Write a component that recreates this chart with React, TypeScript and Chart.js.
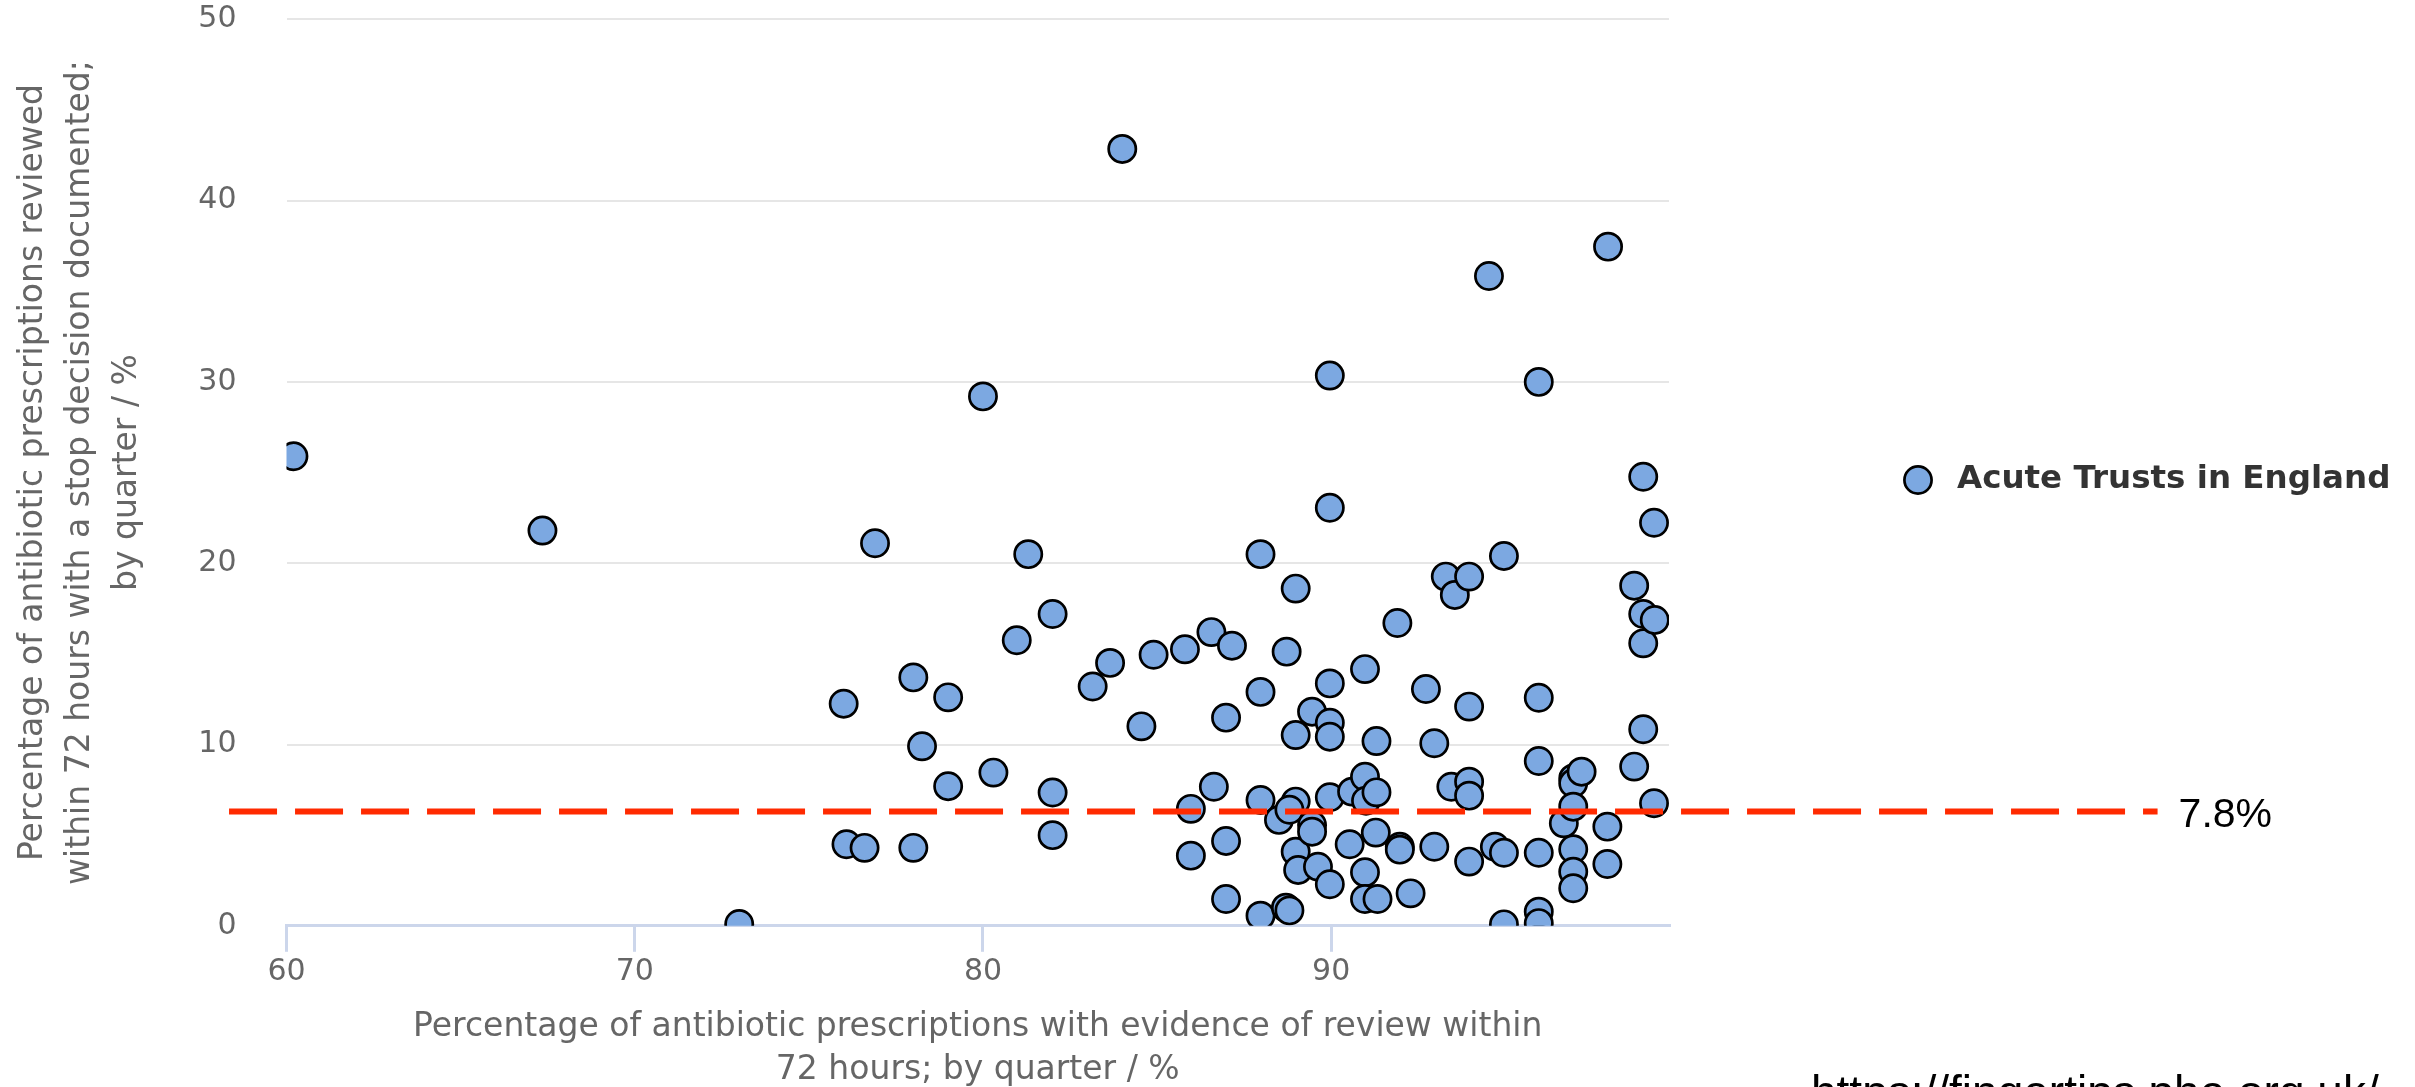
import React, { useEffect, useRef } from "react";
import { Chart, registerables } from "chart.js";

Chart.register(...registerables);

const seriesName = "Acute Trusts in England";

// x: % with evidence of review within 72h ; y: % reviewed with stop decision documented
const reviewPct = [
  60.2, 67.35, 73.0, 76.0, 76.08, 76.6, 76.9, 78.0, 78.0, 78.25,
  79.0, 79.0, 80.0, 80.3, 80.97, 81.3, 82.0, 82.0, 82.0, 83.15,
  83.65, 84.0, 84.55, 84.9, 85.8, 85.97, 85.97, 86.56, 86.63, 86.98,
  86.98, 86.98, 87.15, 87.97, 87.97, 87.97, 87.97, 88.5, 88.72, 88.7,
  88.8, 88.98, 88.98, 88.98, 88.8, 88.98, 89.05, 89.45, 89.45, 89.45,
  89.62, 89.96, 89.96, 89.96, 89.96, 89.96, 89.96, 89.96, 90.6, 90.53,
  90.97, 90.97, 91.0, 90.97, 90.97, 91.3, 91.3, 91.28, 91.33, 91.9,
  91.97, 91.97, 92.28, 92.72, 92.96, 92.96, 93.29, 93.55, 93.45, 93.96,
  93.96, 93.96, 93.96, 93.96, 94.53, 94.7, 94.96, 94.96, 94.96, 95.96,
  95.96, 95.96, 95.96, 95.96, 95.96, 96.68, 96.95, 96.95, 96.95, 96.95,
  96.95, 96.95, 97.19, 97.95, 97.93, 97.93, 98.7, 98.7, 98.96, 98.96,
  98.96, 98.96, 99.29, 99.27, 99.27,
];
const stopPct = [
  25.9, 21.8, 0.1, 12.25, 4.5, 4.3, 21.1, 13.7, 4.3, 9.9,
  12.6, 7.7, 29.2, 8.45, 15.75, 20.5, 17.2, 7.35, 5.0, 13.2,
  14.5, 42.85, 11.0, 14.95, 15.25, 6.45, 3.87, 16.2, 7.67, 4.68,
  11.48, 1.48, 15.45, 20.5, 12.9, 6.94, 0.56, 5.84, 15.12, 1.0,
  0.85, 18.6, 10.52, 6.85, 6.4, 4.09, 3.08, 11.81, 5.56, 5.19,
  3.26, 30.35, 23.06, 13.37, 11.2, 10.43, 7.09, 2.29, 7.4, 4.5,
  14.16, 8.22, 6.9, 2.95, 1.48, 10.19, 7.36, 5.14, 1.48, 16.7,
  4.36, 4.2, 1.79, 13.06, 10.07, 4.36, 19.26, 18.25, 7.67, 19.26,
  12.09, 7.95, 7.18, 3.54, 35.84, 4.36, 20.4, 4.03, 0.08, 30.0,
  12.58, 9.09, 4.03, 0.78, 0.15, 5.65, 8.13, 7.86, 6.57, 4.22,
  2.98, 2.07, 8.5, 37.46, 5.47, 3.41, 18.76, 8.78, 24.77, 17.2,
  15.58, 10.84, 16.87, 22.23, 6.76,
];

const xTicks = [60, 70, 80, 90];
const yTicks = [0, 10, 20, 30, 40, 50];

const refLineValue = 6.3;
const refLineLabel = "7.8%";
const refLineX = [58.35, 113.73];

const sourceUrl = "https://fingertips.phe.org.uk/";

const xTitle = [
  "Percentage of antibiotic prescriptions with evidence of review within",
  "72 hours; by quarter / %",
];
const yTitle = [
  "Percentage of antibiotic prescriptions reviewed",
  "within 72 hours with a stop decision documented;",
  "by quarter / %",
];

const POINT_FILL = "#7ca8e1";
const POINT_BORDER = "#000000";
const REF_COLOR = "#ff2a00";
const FONT = "'DejaVu Sans', sans-serif";

const overlayPlugin = {
  id: "overlayTexts",
  afterDraw(chart: any) {
    const ctx = chart.ctx;
    const xs = chart.scales.x;
    const ys = chart.scales.y;
    ctx.save();
    // legend
    const lx = 1918;
    const ly = 480;
    ctx.beginPath();
    ctx.arc(lx, ly, 13.6, 0, Math.PI * 2);
    ctx.fillStyle = POINT_FILL;
    ctx.fill();
    ctx.lineWidth = 2.7;
    ctx.strokeStyle = POINT_BORDER;
    ctx.stroke();
    ctx.fillStyle = "#333333";
    ctx.font = "bold 32.5px " + FONT;
    ctx.textBaseline = "middle";
    ctx.textAlign = "left";
    ctx.fillText(seriesName, 1957, ly);

    // reference line label
    ctx.fillStyle = "#000000";
    ctx.font = "41px 'Liberation Sans', sans-serif";
    ctx.textBaseline = "middle";
    ctx.fillText(
      refLineLabel,
      xs.getPixelForValue(refLineX[1]) + 21,
      ys.getPixelForValue(refLineValue) + 4
    );

    // source url (cut at bottom in the reference)
    ctx.font = "46px 'Liberation Sans', sans-serif";
    ctx.textBaseline = "alphabetic";
    ctx.fillText(sourceUrl, 1811, 1108);
    ctx.restore();
  },
};

export default function App() {
  const canvasRef = useRef<HTMLCanvasElement | null>(null);

  useEffect(() => {
    if (!canvasRef.current) return;
    const chart = new Chart(canvasRef.current, {
      type: "scatter",
      data: {
        datasets: [
          {
            type: "line",
            label: "ref",
            data: refLineX.map((x) => ({ x, y: refLineValue })),
            borderColor: REF_COLOR,
            borderWidth: 6,
            borderDash: [48, 18],
            pointRadius: 0,
            fill: false,
            clip: false as any,
            order: 0,
          } as any,
          {
            type: "scatter",
            label: seriesName,
            data: reviewPct.map((x, i) => ({ x, y: stopPct[i] })),
            backgroundColor: POINT_FILL,
            borderColor: POINT_BORDER,
            borderWidth: 2.7,
            pointRadius: 13.6,
            pointHoverRadius: 13.6,
            order: 1,
          },
        ],
      },
      options: {
        animation: false,
        responsive: false,
        events: [],
        layout: { padding: { left: 0, right: 746, top: 19.3, bottom: 0 } },
        plugins: {
          legend: { display: false },
          tooltip: { enabled: false },
        },
        scales: {
          x: {
            type: "linear",
            min: 60,
            max: 99.7,
            afterBuildTicks: (s: any) => {
              s.ticks = xTicks.map((v) => ({ value: v }));
            },
            afterFit: (s: any) => {
              s.height = 161.2;
            },
            ticks: {
              includeBounds: false,
              color: "#666666",
              font: { family: FONT, size: 30 },
              padding: 2,
              maxRotation: 0,
            },
            grid: {
              display: true,
              drawOnChartArea: false,
              drawTicks: true,
              tickLength: 26,
              color: "#ccd6eb",
              lineWidth: 3,
            },
            border: { display: true, color: "#ccd6eb", width: 3 },
            title: {
              display: true,
              text: xTitle,
              color: "#666666",
              font: { family: FONT, size: 33, lineHeight: 43 / 33 },
              padding: { top: 0, bottom: -5 },
            },
          },
          y: {
            type: "linear",
            min: 0,
            max: 50,
            afterBuildTicks: (s: any) => {
              s.ticks = yTicks.map((v) => ({ value: v }));
            },
            afterFit: (s: any) => {
              s.width = 286.5;
            },
            ticks: {
              includeBounds: false,
              color: "#666666",
              font: { family: FONT, size: 30 },
              padding: 0,
            },
            grid: {
              color: "#e6e6e6",
              lineWidth: 2,
              drawTicks: true,
              tickLength: 50,
              tickColor: "rgba(0,0,0,0)",
            },
            border: { display: false },
            title: {
              display: true,
              text: yTitle,
              color: "#666666",
              font: { family: FONT, size: 33, lineHeight: 47 / 33 },
              padding: { top: 10, bottom: 0 },
            },
          },
        },
      },
      plugins: [overlayPlugin],
    } as any);
    return () => chart.destroy();
  }, []);

  return (
    <div
      style={{
        position: "absolute",
        left: 0,
        top: 0,
        width: 2415,
        height: 1087,
        background: "#ffffff",
      }}
    >
      <canvas
        ref={canvasRef}
        width={2415}
        height={1087}
        style={{ display: "block", width: 2415, height: 1087 }}
      />
    </div>
  );
}
